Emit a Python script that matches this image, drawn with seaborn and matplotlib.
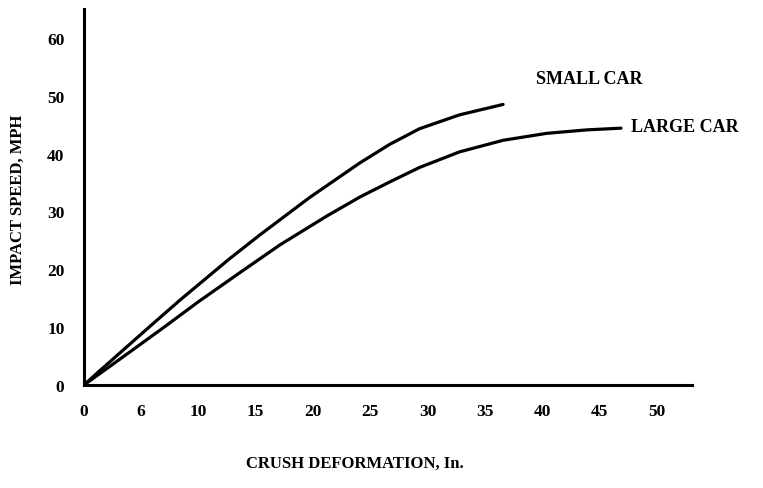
import matplotlib
matplotlib.use("Agg")
import matplotlib.pyplot as plt
import seaborn as sns
import pandas as pd

# Data
small_x = [0, 1.4, 5.8, 8.4, 12.7, 15.4, 19.7, 24.1, 26.7, 29.3, 32.8, 36.6]
small_y = [0, 2.5, 10.2, 14.7, 21.8, 26.0, 32.4, 38.4, 41.6, 44.3, 46.7, 48.5]
large_x = [0, 4.0, 7.0, 10.0, 13.6, 17.1, 21.2, 24.1, 26.7, 29.3, 32.8, 36.6, 40.4, 43.9, 46.9]
large_y = [0, 5.7, 10.0, 14.4, 19.4, 24.2, 29.2, 32.5, 35.1, 37.6, 40.3, 42.3, 43.5, 44.1, 44.4]
series_names = ["SMALL CAR", "LARGE CAR"]
x_ticks = [0, 5, 10, 15, 20, 25, 30, 35, 40, 45, 50]
x_tick_labels = ["0", "6", "10", "15", "20", "25", "30", "35", "40", "45", "50"]
y_ticks = [0, 10, 20, 30, 40, 50, 60]
y_tick_labels = ["0", "10", "20", "30", "40", "50", "60"]
x_label = "CRUSH DEFORMATION, In."
y_label = "IMPACT SPEED, MPH"

df = pd.concat([
    pd.DataFrame({"x": small_x, "y": small_y, "car": series_names[0]}),
    pd.DataFrame({"x": large_x, "y": large_y, "car": series_names[1]}),
])

sns.set_style("white")
plt.rcParams["font.family"] = ["Liberation Serif", "DejaVu Serif"]
plt.rcParams["font.weight"] = "bold"
plt.rcParams["text.color"] = "black"
plt.rcParams["xtick.color"] = "black"
plt.rcParams["ytick.color"] = "black"

fig = plt.figure(figsize=(7.63, 4.89), dpi=100)
ax = fig.add_axes([0.110, 0.2106, 0.797, 0.769])

sns.lineplot(data=df, x="x", y="y", hue="car", sort=False,
             palette={series_names[0]: "black", series_names[1]: "black"},
             linewidth=2.3, legend=False, ax=ax)
for ln in ax.lines:
    ln.set_solid_joinstyle("round")
    ln.set_solid_capstyle("round")

ax.set_xlim(0, 53.1)
ax.set_ylim(0, 65)
ax.set_xticks(x_ticks)
ax.set_xticklabels(x_tick_labels)
ax.set_yticks(y_ticks)
ax.set_yticklabels(y_tick_labels)
ax.tick_params(axis="x", direction="in", length=4, width=1.5, pad=13,
               labelsize=12.5, colors="black")
ax.tick_params(axis="y", direction="in", length=4, width=1.5, pad=14,
               labelsize=12.5, colors="black")
for lab in ax.get_xticklabels() + ax.get_yticklabels():
    lab.set_fontweight("bold")
ax.set_xlabel("")
ax.set_ylabel("")

for s in ["top", "right"]:
    ax.spines[s].set_visible(False)
for s in ["left", "bottom"]:
    ax.spines[s].set_color("black")
    ax.spines[s].set_linewidth(2.2)

ax.text(39.5, 52.9, series_names[0], fontsize=13, fontweight="bold",
        va="center", ha="left", color="black")
ax.text(47.8, 44.6, series_names[1], fontsize=13, fontweight="bold",
        va="center", ha="left", color="black")

fig.text(355 / 763, 1 - 464 / 489, x_label, fontsize=12, fontweight="bold",
         ha="center", va="center", color="black")
fig.text(18 / 763, 1 - 200 / 489, y_label, fontsize=12, fontweight="bold",
         ha="center", va="center", rotation=90, color="black")

fig.savefig("out.png", dpi=100, facecolor="white")
